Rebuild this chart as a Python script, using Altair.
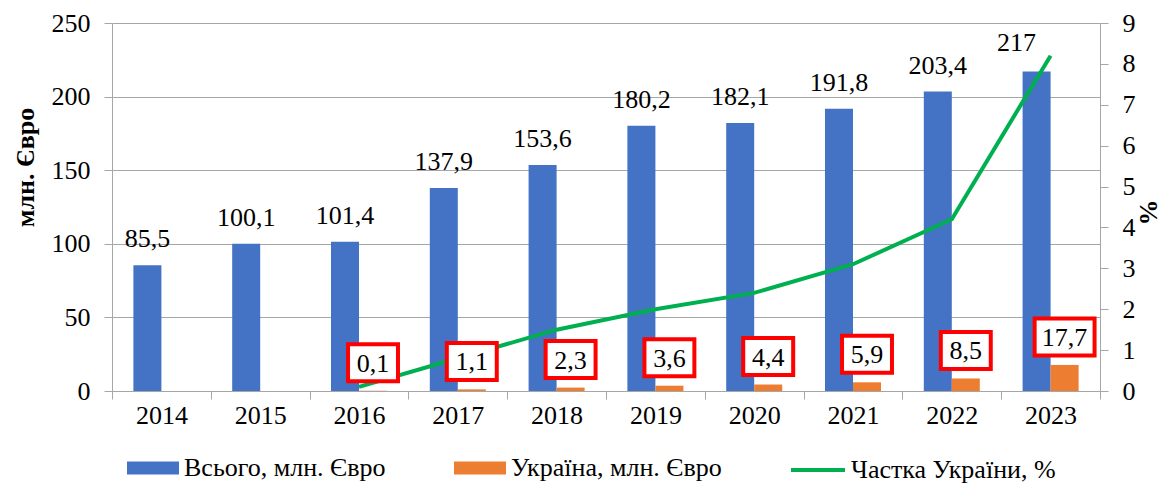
import altair as alt
import pandas as pd

FONT = "Liberation Serif"

years = ["2014", "2015", "2016", "2017", "2018", "2019", "2020", "2021", "2022", "2023"]
total_values = [85.5, 100.1, 101.4, 137.9, 153.6, 180.2, 182.1, 191.8, 203.4, 217.0]
ukr_years = ["2016", "2017", "2018", "2019", "2020", "2021", "2022", "2023"]
ukr_values = [0.1, 1.1, 2.3, 3.6, 4.4, 5.9, 8.5, 17.7]
share_values = [0.1, 0.8, 1.5, 2.0, 2.4, 3.1, 4.2, 8.2]

S_TOTAL = "Всього, млн. Євро"
S_UKR = "Україна, млн. Євро"
S_SHARE = "Частка України, %"


def fmt(v):
    return f"{v:g}".replace(".", ",")


total_df = pd.DataFrame({"year": years, "value": total_values, "series": S_TOTAL,
                         "label": [fmt(v) for v in total_values]})
ukr_df = pd.DataFrame({"year": ukr_years, "value": ukr_values, "series": S_UKR,
                       "label": [fmt(v) for v in ukr_values]})
bars_df = pd.concat([total_df, ukr_df], ignore_index=True)
share_df = pd.DataFrame({"year": ukr_years, "share": share_values, "series": S_SHARE})

GRID = "#a6a6a6"

x_enc = alt.X("year:N", sort=years,
              scale=alt.Scale(paddingInner=0, paddingOuter=0),
              axis=alt.Axis(title=None, labelAngle=0, labelFont=FONT, labelFontSize=26,
                            labelColor="black", domainColor=GRID, tickColor=GRID,
                            tickSize=8, tickBand="extent", labelPadding=3, grid=False))
xoff_enc = alt.XOffset("series:N", scale=alt.Scale(domain=[S_TOTAL, S_UKR],
                                                   paddingInner=0, paddingOuter=0.764))

y_left = alt.Y("value:Q", scale=alt.Scale(domain=[0, 250], nice=False),
               axis=alt.Axis(values=[0, 50, 100, 150, 200, 250], grid=True, gridColor=GRID,
                             domainColor=GRID, tickColor=GRID, tickSize=8,
                             labelFont=FONT, labelFontSize=26, labelColor="black",
                             labelPadding=14, title="млн. Євро", titleFont=FONT,
                             titleFontSize=26, titleFontWeight="bold", titleColor="black",
                             titleAngle=270, titleX=-87, titleY=144, titleAlign="center",
                             titleBaseline="middle"))

rect_path = "M-2,-0.5H2V0.5H-2Z"

bars = alt.Chart(bars_df).mark_bar(width={"band": 1}).encode(
    x=x_enc,
    xOffset=xoff_enc,
    y=y_left,
    color=alt.Color("series:N", scale=alt.Scale(domain=[S_TOTAL, S_UKR],
                                                range=["#4472C4", "#ED7D31"]),
                    legend=alt.Legend(orient="none", legendX=28, legendY=432,
                                      direction="horizontal", title=None,
                                      symbolType=rect_path, symbolSize=676,
                                      symbolStrokeWidth=0, labelFont=FONT,
                                      labelFontSize=26, labelColor="black",
                                      labelOffset=18, columnPadding=68, padding=0,
                                      labelLimit=400)),
)

total_text = alt.Chart(total_df).transform_filter(
    "datum.year != '2023'"
).mark_text(font=FONT, fontSize=26, color="black", baseline="alphabetic", dy=-18).encode(
    x=alt.X("year:N", sort=years),
    xOffset=alt.XOffset("series:N"),
    y=alt.Y("value:Q"),
    text="label:N",
)

# last label sits left of its bar, clear of the line
total_text_last = alt.Chart(total_df).transform_filter(
    "datum.year == '2023'"
).mark_text(font=FONT, fontSize=26, color="black", baseline="alphabetic",
            dy=-21, dx=-20).encode(
    x=alt.X("year:N", sort=years),
    xOffset=alt.XOffset("series:N"),
    y=alt.Y("value:Q"),
    text="label:N",
)

left_group = alt.layer(bars, total_text, total_text_last)

line = alt.Chart(share_df).mark_line(strokeWidth=4).encode(
    x=alt.X("year:N", sort=years),
    y=alt.Y("share:Q", scale=alt.Scale(domain=[0, 9], nice=False),
            axis=alt.Axis(orient="right", values=list(range(10)), grid=False,
                          domainColor=GRID, tickColor=GRID, tickSize=8,
                          labelFont=FONT, labelFontSize=26, labelColor="black",
                          labelPadding=14, title="%", titleFont=FONT, titleFontSize=26,
                          titleFontWeight="bold", titleColor="black", titleAngle=270,
                          titleX=48, titleY=189, titleAlign="center",
                          titleBaseline="middle")),
    stroke=alt.Stroke("series:N", scale=alt.Scale(domain=[S_SHARE], range=["#00B050"]),
                      legend=alt.Legend(orient="none", legendX=677, legendY=418,
                                        direction="horizontal", title=None,
                                        symbolType="stroke", symbolSize=2916,
                                        symbolStrokeWidth=4, labelFont=FONT,
                                        labelFontSize=26, labelColor="black",
                                        labelOffset=4, padding=0, labelLimit=400)),
)

path_n = "M-1.35,-1H1.35V1H-1.35Z"
path_w = "M-1.62,-1H1.62V1H-1.62Z"

y_lab = alt.Y("value:Q", scale=alt.Scale(domain=[0, 250], nice=False), axis=None)

boxes = alt.Chart(ukr_df).transform_calculate(
    bw="length(datum.label) > 3 ? 'w' : 'n'"
).mark_point(filled=True, fill="white", stroke="#FF0000", strokeWidth=4,
             size=1369, opacity=1, yOffset=-28).encode(
    x=alt.X("year:N", sort=years),
    xOffset=alt.XOffset("series:N"),
    y=y_lab,
    shape=alt.Shape("bw:N", scale=alt.Scale(domain=["n", "w"], range=[path_n, path_w]),
                    legend=None),
)

ukr_text = alt.Chart(ukr_df).mark_text(font=FONT, fontSize=26, color="black",
                                       baseline="middle", dy=-27).encode(
    x=alt.X("year:N", sort=years),
    xOffset=alt.XOffset("series:N"),
    y=y_lab,
    text="label:N",
)

label_group = alt.layer(boxes, ukr_text)

chart = alt.layer(left_group, line, label_group).resolve_scale(
    y="independent", color="independent"
).properties(
    width=988, height=368,
    autosize=alt.AutoSizeParams(type="none"),
    padding={"left": 104, "top": 15, "right": 61, "bottom": 95},
).configure_view(stroke=None)

chart.save("out.html", embed_options={"renderer": "svg", "actions": False})
